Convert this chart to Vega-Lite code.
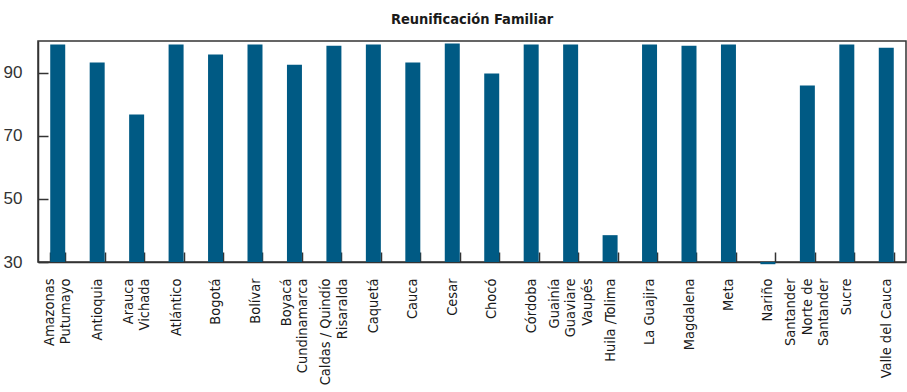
{
  "$schema": "https://vega.github.io/schema/vega-lite/v6.json",
  "width": 868,
  "height": 221,
  "autosize": {"type": "none"},
  "padding": {"left": 38, "top": 41, "right": 1, "bottom": 130},
  "background": "white",
  "title": {
    "text": "Reunificación Familiar",
    "font": "DejaVu Sans Condensed",
    "fontSize": 14.5,
    "fontWeight": "bold",
    "color": "#1a1a1a",
    "anchor": "middle",
    "offset": 14
  },
  "config": {
    "view": {"stroke": "#333333", "strokeWidth": 1.5}
  },
  "data": {
    "values": [
      {"dep": "Amazonas|Putumayo", "valor": 98.9},
      {"dep": "Antioquia", "valor": 93.2},
      {"dep": "Arauca|Vichada", "valor": 76.7},
      {"dep": "Atlántico", "valor": 98.9},
      {"dep": "Bogotá", "valor": 95.7},
      {"dep": "Bolívar", "valor": 98.9},
      {"dep": "Boyacá|Cundinamarca", "valor": 92.5},
      {"dep": "Caldas / Quindío|Risaralda", "valor": 98.5},
      {"dep": "Caquetá", "valor": 98.9},
      {"dep": "Cauca", "valor": 93.2},
      {"dep": "Cesar", "valor": 99.2},
      {"dep": "Chocó", "valor": 89.7},
      {"dep": "Córdoba", "valor": 98.9},
      {"dep": "Guainía|Guaviare|Vaupés", "valor": 98.9},
      {"dep": "Huila /Tolima", "valor": 38.5},
      {"dep": "La Guajira", "valor": 98.9},
      {"dep": "Magdalena", "valor": 98.5},
      {"dep": "Meta", "valor": 98.9},
      {"dep": "Nariño", "valor": 29.3},
      {"dep": "Santander|Norte de|Santander", "valor": 85.9},
      {"dep": "Sucre", "valor": 98.9},
      {"dep": "Valle del Cauca", "valor": 97.9}
    ]
  },
  "mark": {"type": "bar", "color": "#005a84", "clip": false},
  "encoding": {
    "x": {
      "field": "dep",
      "type": "nominal",
      "sort": null,
      "scale": {"paddingInner": 0.62, "paddingOuter": 0.31},
      "axis": {
        "title": null,
        "labelAngle": -90,
        "labelAlign": "right",
        "labelBaseline": "middle",
        "labelFont": "DejaVu Sans Condensed",
        "labelFontSize": 14.5,
        "labelLineHeight": 16.5,
        "labelColor": "#1a1a1a",
        "labelPadding": 26,
        "labelExpr": "split(datum.label, '|')",
        "labelOffset": {
          "condition": [
            {"test": "length(split(datum.value, '|')) == 3", "value": -16.5},
            {"test": "length(split(datum.value, '|')) == 2", "value": -8.25}
          ],
          "value": 0
        },
        "tickBand": "extent",
        "tickSize": -10,
        "tickColor": "#333333",
        "tickWidth": 1.5,
        "domainColor": "#333333",
        "domainWidth": 1.5,
        "labelOverlap": false,
        "labelLimit": 0
      }
    },
    "y": {
      "field": "valor",
      "type": "quantitative",
      "scale": {"domain": [30, 100], "zero": false, "nice": false},
      "axis": {
        "title": null,
        "values": [30, 50, 70, 90],
        "grid": false,
        "tickSize": -10,
        "tickColor": "#333333",
        "tickWidth": 1.5,
        "domainColor": "#333333",
        "domainWidth": 1.5,
        "labelFont": "Liberation Sans",
        "labelFontSize": 17,
        "labelColor": "#333333",
        "labelPadding": 26
      }
    },
    "y2": {"datum": 30}
  }
}
